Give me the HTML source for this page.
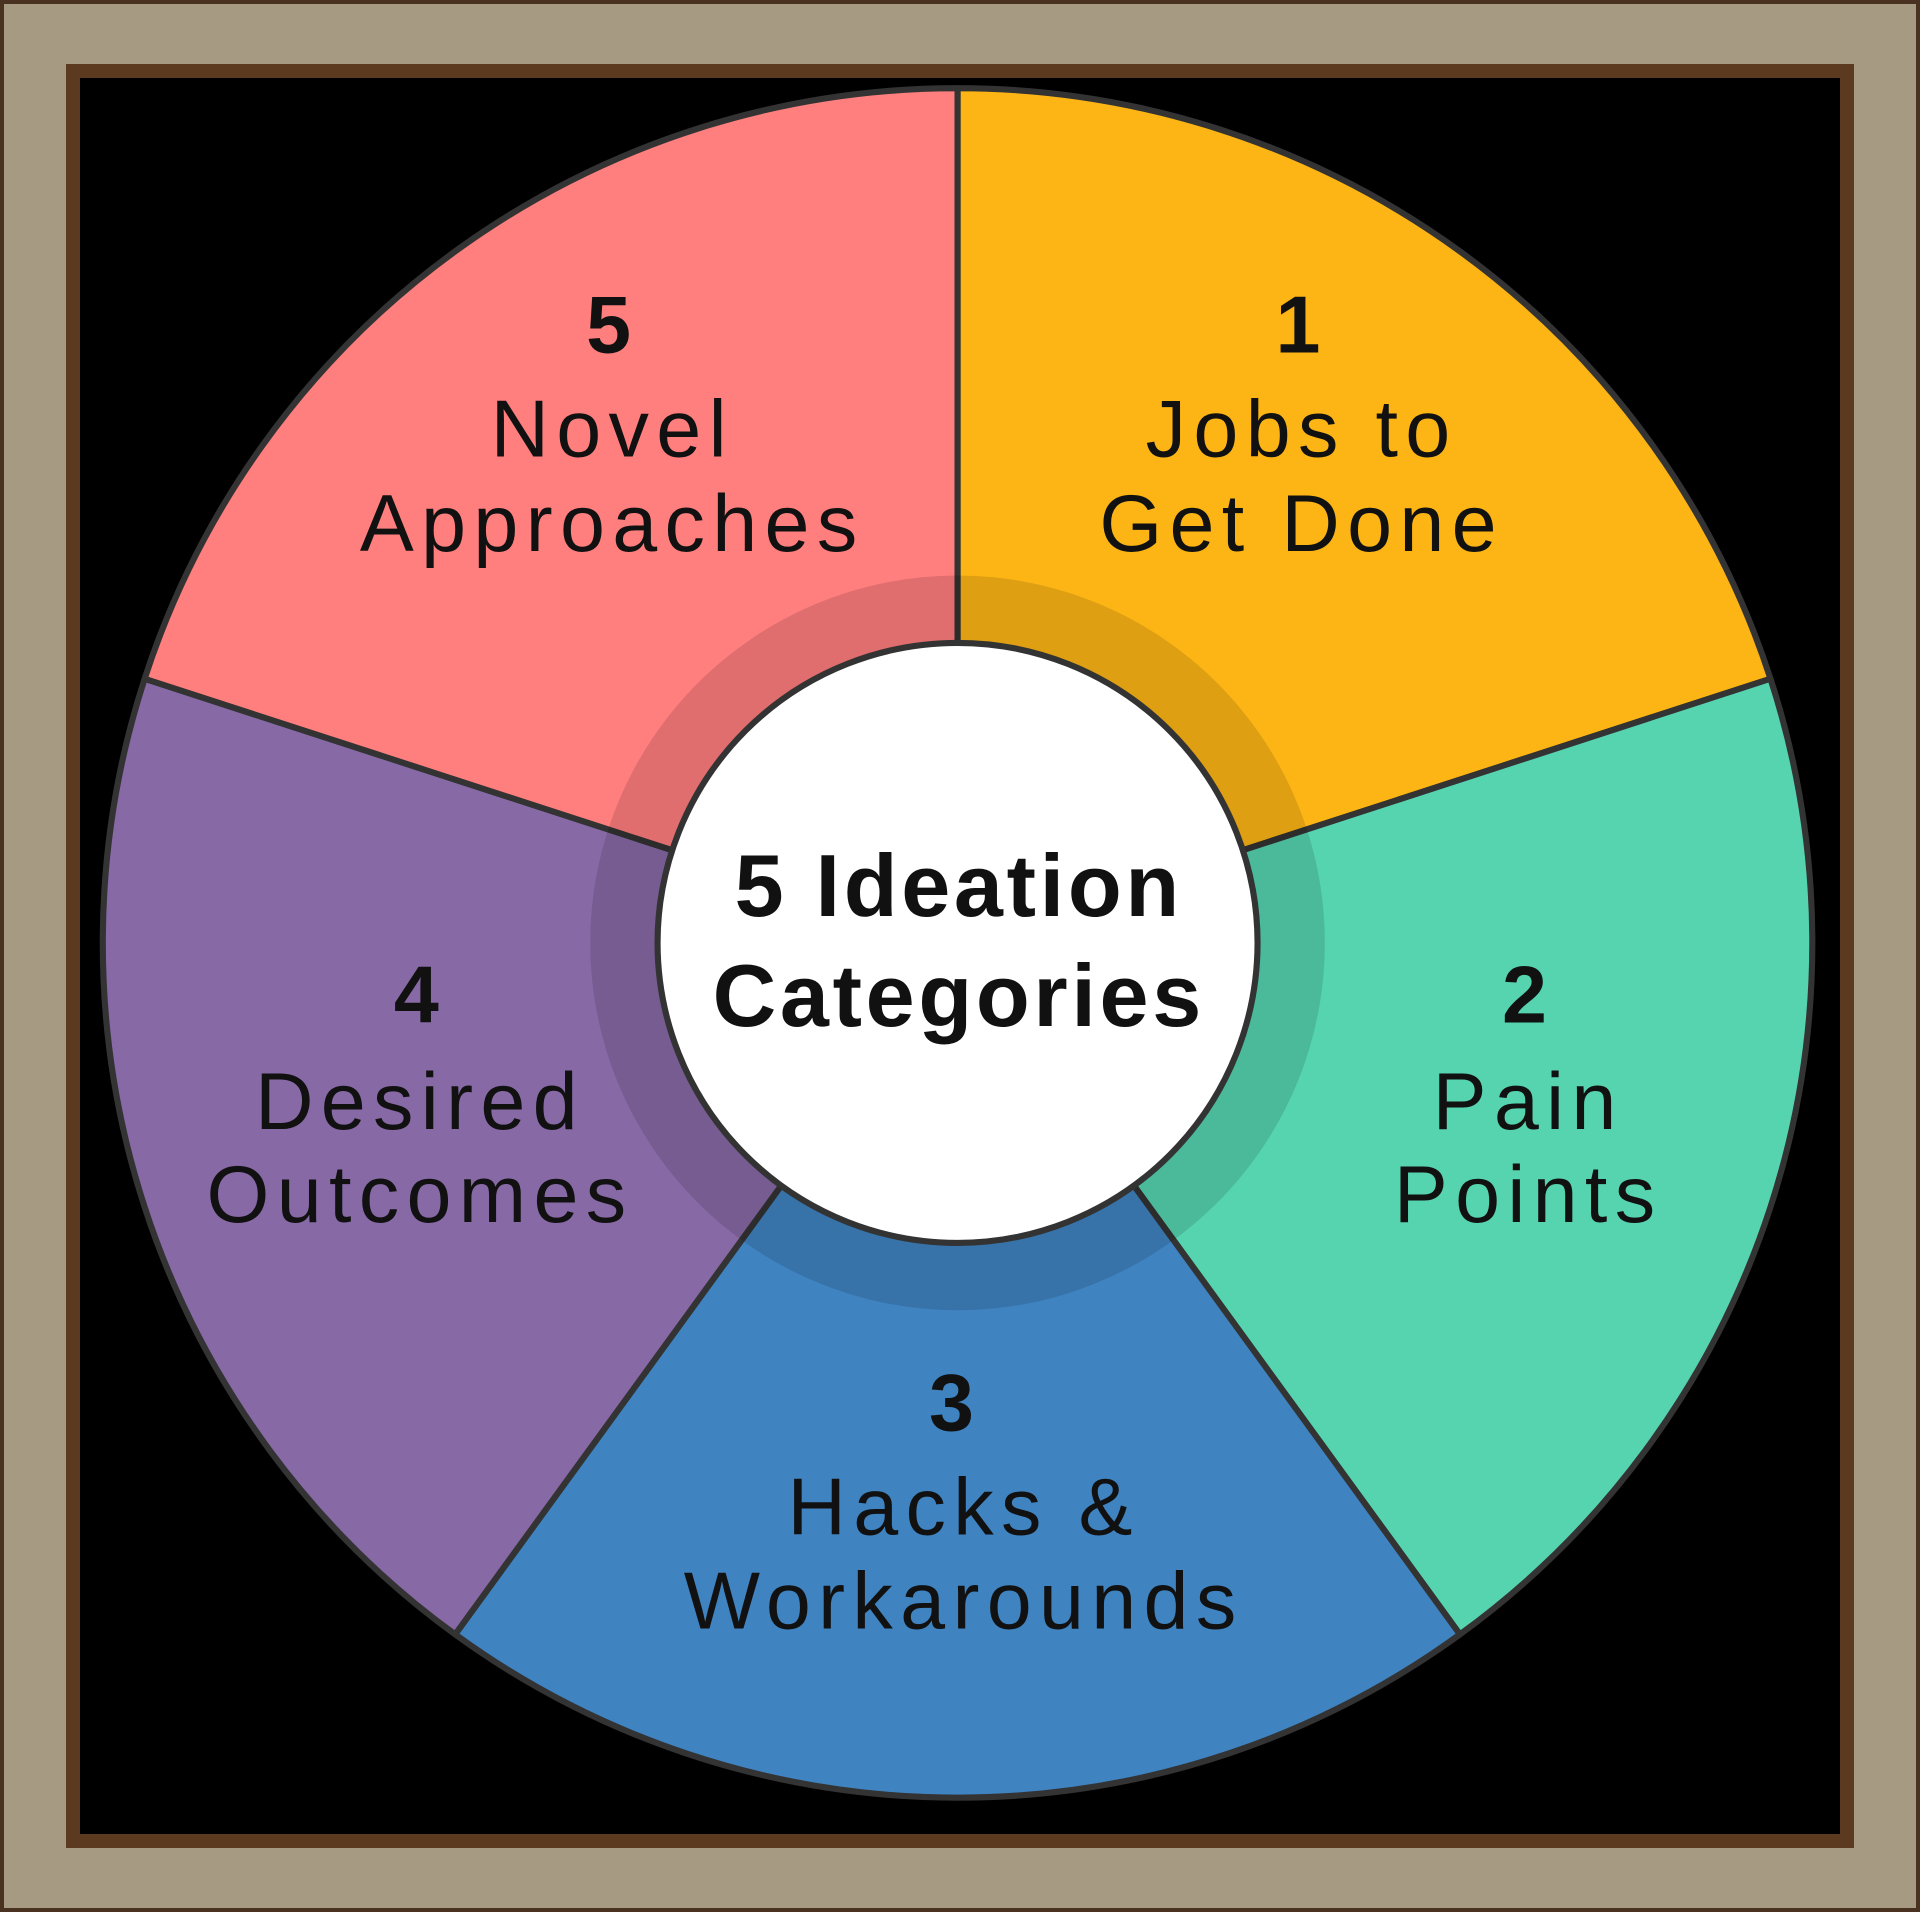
<!DOCTYPE html>
<html><head><meta charset="utf-8"><style>
html,body{margin:0;padding:0;background:#000;}
.f{position:absolute;left:0;top:0;width:1920px;height:1912px;box-sizing:border-box;border:4px solid #4a3220;background:#a69a82;}
.i{position:absolute;left:66px;top:64px;right:66px;bottom:64px;background:#000;border:14px solid #5b3a1f;box-sizing:border-box;}
svg{position:absolute;left:0;top:0;}
text{font-family:"Liberation Sans",sans-serif;fill:#111;text-anchor:middle;}
.n{font-weight:bold;font-size:66px;}
.l{font-size:66px;letter-spacing:6px;}
.c{font-weight:bold;font-size:72px;letter-spacing:3px;}
</style></head><body>
<div class="f"></div><div class="i"></div>
<svg width="1920" height="1912" viewBox="0 0 1568 1561.4" preserveAspectRatio="none">
<g stroke="#333" stroke-width="5" stroke-linejoin="round">
<path d="M782 770 L782 72 A698 698 0 0 1 1445.9 554.3 Z" fill="#FDB515"/>
<path d="M782 770 L1445.9 554.3 A698 698 0 0 1 1192.3 1334.7 Z" fill="#56D4B0"/>
<path d="M782 770 L1192.3 1334.7 A698 698 0 0 1 371.7 1334.7 Z" fill="#3F83C1"/>
<path d="M782 770 L371.7 1334.7 A698 698 0 0 1 118.1 554.3 Z" fill="#8769A5"/>
<path d="M782 770 L118.1 554.3 A698 698 0 0 1 782 72 Z" fill="#FF7E7E"/>
</g>
<circle cx="782" cy="770" r="300" fill="rgba(0,0,0,0.12)"/>
<circle cx="782" cy="770" r="245" fill="#fff" stroke="#333" stroke-width="5"/>
<text class="n" x="497" y="288">5</text>
<text class="l" x="500" y="373">Novel</text>
<text class="l" x="500" y="450">Approaches</text>
<text class="n" x="1060" y="288">1</text>
<text class="l" x="1063" y="373">Jobs to</text>
<text class="l" x="1063" y="450">Get Done</text>
<text class="n" x="1245" y="835">2</text>
<text class="l" x="1248" y="922">Pain</text>
<text class="l" x="1248" y="998">Points</text>
<text class="n" x="777" y="1168">3</text>
<text class="l" x="787" y="1253">Hacks &amp;</text>
<text class="l" x="787" y="1330">Workarounds</text>
<text class="n" x="340" y="835">4</text>
<text class="l" x="343" y="922">Desired</text>
<text class="l" x="343" y="998">Outcomes</text>
<text class="c" x="783" y="748">5 Ideation</text>
<text class="c" x="783" y="838">Categories</text>
</svg>
</body></html>
